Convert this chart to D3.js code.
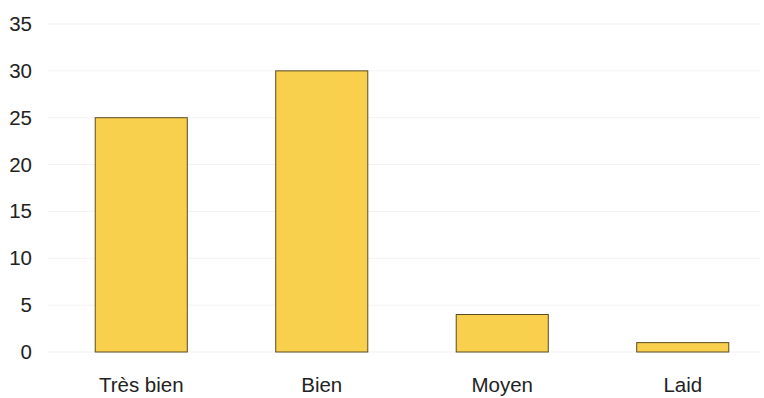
<!DOCTYPE html>
<html>
<head>
<meta charset="utf-8">
<script src="https://cdn.jsdelivr.net/npm/d3@7"></script>
<style>
  body { margin: 0; background: #fff; }
  text { font-family: "Liberation Sans", Arial, sans-serif; fill: #222; }
</style>
</head>
<body>
<svg id="chart" width="764" height="398"></svg>
<script>
var width = 764, height = 398

var categories = ["Très bien", "Bien", "Moyen", "Laid"]
var values = [25, 30, 4, 1]
var yTicks = [0, 5, 10, 15, 20, 25, 30, 35]

var svg = d3.select('#chart')

var x = d3.scaleBand()
  .domain(categories)
  .range([51, 773])
  .paddingInner(0.49)
  .paddingOuter(0.245)

var y = d3.scaleLinear()
  .domain([0, 35])
  .range([352, 24])

// faint gridlines
svg.append('g')
  .selectAll('line')
  .data(yTicks)
  .enter().append('line')
  .attr('x1', 48)
  .attr('x2', 760)
  .attr('y1', d => y(d))
  .attr('y2', d => y(d))
  .attr('stroke', '#f3f3f3')
  .attr('stroke-width', 1)

var yAxis = svg.append('g')
  .attr('transform', 'translate(32,0)')
  .call(d3.axisLeft(y).tickValues(yTicks).tickSize(0).tickPadding(0))
yAxis.select('.domain').remove()
yAxis.selectAll('text')
  .style('font-size', '20.5px')
  .attr('fill', '#222')

svg.append('g')
  .selectAll('rect')
  .data(values)
  .enter().append('rect')
  .attr('x', (d, i) => x(categories[i]))
  .attr('y', d => y(d))
  .attr('width', x.bandwidth())
  .attr('height', d => y(0) - y(d))
  .attr('fill', '#f9d04e')
  .attr('stroke', '#5a4a22')
  .attr('stroke-width', 1)

var xAxis = svg.append('g')
  .attr('transform', 'translate(0,' + y(0) + ')')
  .call(d3.axisBottom(x).tickSize(0).tickPadding(25))
xAxis.select('.domain').remove()
xAxis.selectAll('text')
  .style('font-size', '20.5px')
  .attr('fill', '#222')
</script>
</body>
</html>
